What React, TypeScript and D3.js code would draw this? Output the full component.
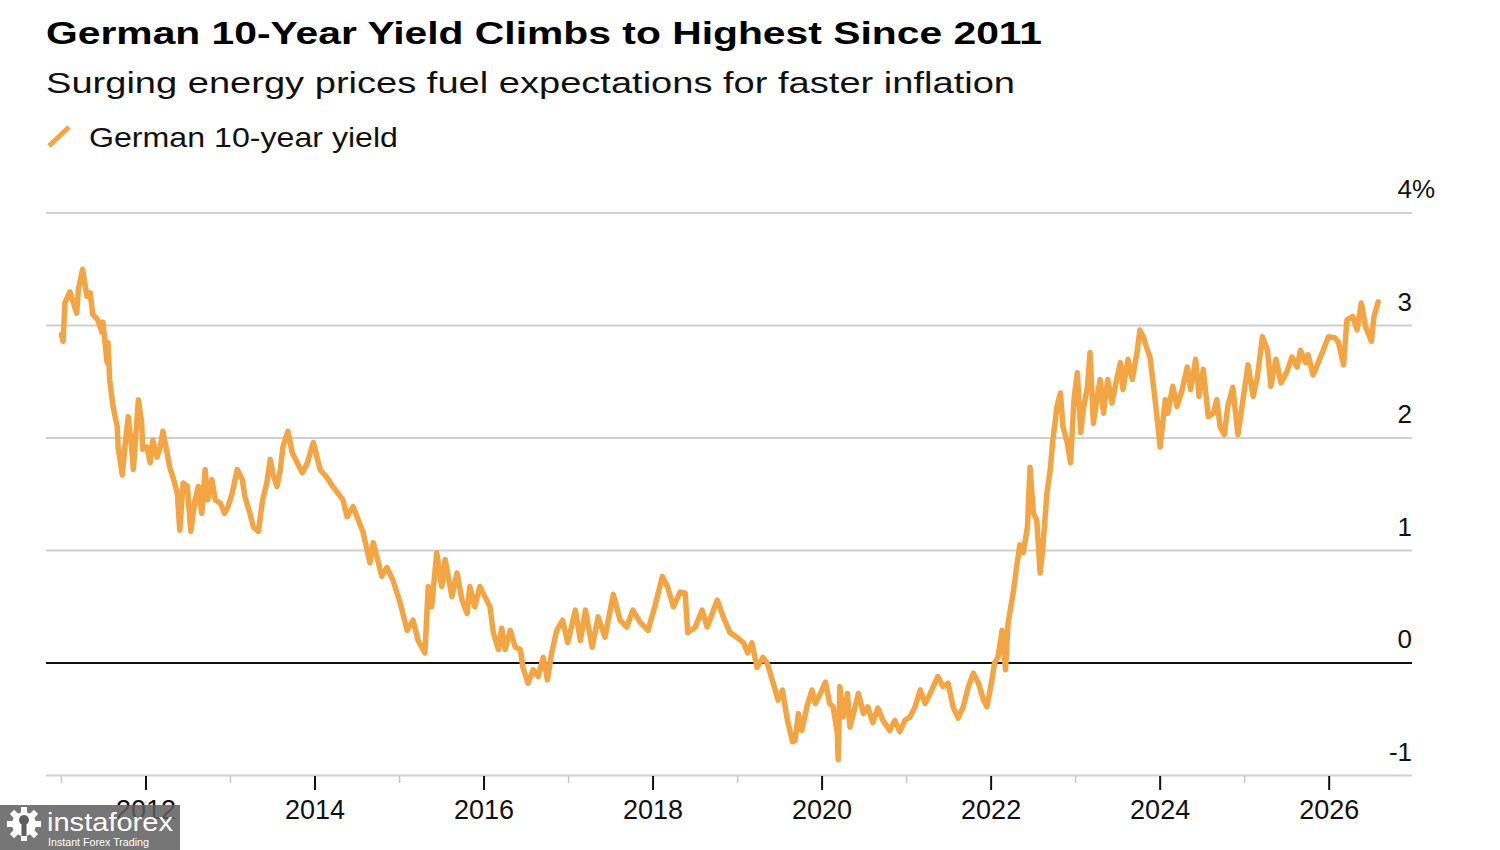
import React from "react";
import * as d3 from "d3";

const title = "German 10-Year Yield Climbs to Highest Since 2011";
const subtitle = "Surging energy prices fuel expectations for faster inflation";
const legendLabel = "German 10-year yield";

const yTicks = [-1, 0, 1, 2, 3, 4];
const majorYears = [2012, 2014, 2016, 2018, 2020, 2022, 2024, 2026];
const minorYears = [2011, 2013, 2015, 2017, 2019, 2021, 2023, 2025];

// [decimal year, yield %]
const yieldSeries: [number, number][] = [
  [2011.0, 2.92], [2011.02, 2.86], [2011.04, 3.2], [2011.1, 3.3], [2011.18, 3.11], [2011.2, 3.32],
  [2011.25, 3.5], [2011.3, 3.26], [2011.34, 3.29], [2011.37, 3.1], [2011.43, 3.05], [2011.48, 2.94],
  [2011.49, 3.03], [2011.54, 2.67], [2011.55, 2.85], [2011.57, 2.52], [2011.61, 2.28], [2011.66, 2.1],
  [2011.67, 1.92], [2011.72, 1.67], [2011.75, 1.92], [2011.79, 2.19], [2011.83, 1.92], [2011.85, 1.72],
  [2011.89, 2.13], [2011.91, 2.34], [2011.95, 2.13], [2011.96, 1.9], [2012.01, 1.92], [2012.05, 1.78],
  [2012.08, 1.98], [2012.13, 1.83], [2012.17, 1.92], [2012.2, 2.06], [2012.25, 1.87], [2012.28, 1.74],
  [2012.32, 1.65], [2012.37, 1.51], [2012.4, 1.18], [2012.44, 1.6], [2012.49, 1.57], [2012.53, 1.17],
  [2012.58, 1.45], [2012.62, 1.57], [2012.66, 1.33], [2012.7, 1.72], [2012.73, 1.45], [2012.78, 1.63],
  [2012.82, 1.45], [2012.88, 1.42], [2012.93, 1.33], [2012.97, 1.39], [2013.02, 1.51], [2013.08, 1.72],
  [2013.14, 1.63], [2013.17, 1.48], [2013.23, 1.33], [2013.27, 1.21], [2013.33, 1.17], [2013.38, 1.45],
  [2013.43, 1.6], [2013.47, 1.81], [2013.5, 1.69], [2013.55, 1.57], [2013.59, 1.72], [2013.62, 1.92],
  [2013.68, 2.06], [2013.73, 1.87], [2013.79, 1.78], [2013.85, 1.69], [2013.91, 1.78],
  [2013.98, 1.96], [2014.06, 1.72], [2014.14, 1.65], [2014.21, 1.57], [2014.33, 1.45], [2014.38, 1.3],
  [2014.45, 1.39], [2014.57, 1.16], [2014.65, 0.89], [2014.69, 1.07], [2014.79, 0.77], [2014.85, 0.85],
  [2014.92, 0.74], [2015.01, 0.53], [2015.09, 0.29], [2015.16, 0.38], [2015.22, 0.2], [2015.3, 0.09],
  [2015.34, 0.68], [2015.38, 0.5], [2015.44, 0.98], [2015.5, 0.68], [2015.54, 0.92], [2015.62, 0.59],
  [2015.68, 0.8], [2015.74, 0.56], [2015.8, 0.44], [2015.83, 0.68], [2015.89, 0.5], [2015.95, 0.68],
  [2016.01, 0.59], [2016.07, 0.5], [2016.11, 0.27], [2016.17, 0.12], [2016.21, 0.31], [2016.25, 0.12],
  [2016.31, 0.29], [2016.37, 0.14], [2016.43, 0.12], [2016.46, -0.04], [2016.52, -0.18], [2016.58, -0.06],
  [2016.64, -0.12], [2016.7, 0.05], [2016.75, -0.15], [2016.8, 0.09], [2016.86, 0.29], [2016.93, 0.38],
  [2016.99, 0.18], [2017.08, 0.47], [2017.14, 0.2], [2017.2, 0.47], [2017.28, 0.14], [2017.35, 0.41],
  [2017.43, 0.23], [2017.53, 0.61], [2017.61, 0.38], [2017.69, 0.32], [2017.76, 0.47], [2017.85, 0.36],
  [2017.94, 0.29], [2018.02, 0.5], [2018.11, 0.77], [2018.17, 0.68], [2018.24, 0.5], [2018.32, 0.63],
  [2018.38, 0.62], [2018.41, 0.27], [2018.5, 0.32], [2018.58, 0.47], [2018.64, 0.32], [2018.76, 0.56],
  [2018.83, 0.41], [2018.91, 0.27], [2018.99, 0.23], [2019.07, 0.18], [2019.12, 0.09], [2019.17, 0.18],
  [2019.23, -0.04], [2019.3, 0.05], [2019.35, 0.0], [2019.41, -0.15], [2019.48, -0.33], [2019.53, -0.24],
  [2019.59, -0.51], [2019.65, -0.7], [2019.68, -0.69], [2019.72, -0.45], [2019.76, -0.6], [2019.82, -0.39],
  [2019.88, -0.24], [2019.92, -0.36], [2019.98, -0.27], [2020.04, -0.17], [2020.09, -0.36], [2020.13, -0.39],
  [2020.18, -0.62], [2020.19, -0.86], [2020.21, -0.21], [2020.25, -0.48], [2020.3, -0.27], [2020.33, -0.57],
  [2020.37, -0.45], [2020.43, -0.27], [2020.49, -0.45], [2020.54, -0.39], [2020.6, -0.53], [2020.66, -0.4],
  [2020.72, -0.51], [2020.8, -0.6], [2020.86, -0.51], [2020.92, -0.61], [2020.98, -0.51], [2021.04, -0.48],
  [2021.1, -0.39], [2021.16, -0.24], [2021.22, -0.36], [2021.28, -0.27], [2021.37, -0.12], [2021.43, -0.21],
  [2021.49, -0.18], [2021.55, -0.39], [2021.61, -0.49], [2021.67, -0.39], [2021.73, -0.21], [2021.79, -0.09],
  [2021.85, -0.18], [2021.91, -0.33], [2021.95, -0.39], [2022.01, -0.15], [2022.04, 0.0], [2022.08, 0.05],
  [2022.13, 0.29], [2022.17, -0.06], [2022.2, 0.35], [2022.26, 0.62], [2022.31, 0.9], [2022.34, 1.05],
  [2022.38, 0.98], [2022.43, 1.21], [2022.46, 1.74], [2022.5, 1.33], [2022.54, 1.27], [2022.58, 0.8],
  [2022.61, 1.01], [2022.66, 1.51], [2022.7, 1.72], [2022.73, 1.98], [2022.78, 2.28], [2022.82, 2.4],
  [2022.85, 2.1], [2022.9, 1.96], [2022.94, 1.78], [2022.98, 2.34], [2023.02, 2.58], [2023.06, 2.05],
  [2023.09, 2.25], [2023.14, 2.46], [2023.17, 2.76], [2023.21, 2.13], [2023.25, 2.34], [2023.29, 2.52],
  [2023.33, 2.22], [2023.38, 2.52], [2023.43, 2.31], [2023.49, 2.54], [2023.53, 2.67], [2023.56, 2.43],
  [2023.62, 2.7], [2023.67, 2.52], [2023.73, 2.78], [2023.76, 2.96], [2023.8, 2.9], [2023.85, 2.78],
  [2023.88, 2.72], [2023.94, 2.34], [2024.0, 1.92], [2024.06, 2.34], [2024.09, 2.22], [2024.15, 2.46],
  [2024.2, 2.28], [2024.26, 2.43], [2024.32, 2.63], [2024.36, 2.43], [2024.42, 2.7], [2024.46, 2.37],
  [2024.51, 2.61], [2024.57, 2.19], [2024.63, 2.22], [2024.67, 2.34], [2024.71, 2.1], [2024.76, 2.03],
  [2024.8, 2.28], [2024.86, 2.45], [2024.92, 2.03], [2024.98, 2.34], [2025.04, 2.65], [2025.1, 2.37],
  [2025.15, 2.54], [2025.21, 2.9], [2025.27, 2.78], [2025.31, 2.46], [2025.37, 2.7], [2025.43, 2.49],
  [2025.5, 2.59], [2025.56, 2.72], [2025.62, 2.63], [2025.66, 2.78], [2025.72, 2.67], [2025.75, 2.74],
  [2025.81, 2.56], [2025.87, 2.67], [2025.93, 2.78], [2025.99, 2.9], [2026.07, 2.89], [2026.11, 2.85],
  [2026.17, 2.65], [2026.21, 3.05], [2026.28, 3.08], [2026.33, 2.96], [2026.38, 3.2], [2026.43, 2.99],
  [2026.5, 2.86], [2026.53, 3.08], [2026.58, 3.21],
];

const W = 1500;
const H = 850;
const LINE_COLOR = "#f3a443";
const FONT = "'Liberation Sans', Arial, Helvetica, sans-serif";

export default function App() {
  const plotLeft = 46;
  const plotRight = 1412;
  const x = d3.scaleLinear().domain([2010.817, 2026.98]).range([plotLeft, plotRight]);
  const y = d3.scaleLinear().domain([-1, 4]).range([775.5, 213]);
  const line = d3
    .line<[number, number]>()
    .x((d) => x(d[0]))
    .y((d) => y(d[1]))
    .curve(d3.curveLinear);

  const gearTeeth = d3.range(8).map((i) => (i * 360) / 8);

  return (
    <svg
      width={W}
      height={H}
      viewBox={`0 0 ${W} ${H}`}
      style={{ position: "absolute", left: 0, top: 0, background: "#fff" }}
      fontFamily={FONT}
    >
      <rect width={W} height={H} fill="#fff" />
      <text x={46} y={43.5} fontSize={32} fontWeight={700} fill="#000" textLength={996} lengthAdjust="spacingAndGlyphs">
        {title}
      </text>
      <text x={46} y={93} fontSize={29} fill="#111" textLength={969} lengthAdjust="spacingAndGlyphs">
        {subtitle}
      </text>
      <line x1={49} y1={146} x2={69} y2={127} stroke={LINE_COLOR} strokeWidth={5} />
      <text x={89} y={147} fontSize={28} fill="#111" textLength={309} lengthAdjust="spacingAndGlyphs">
        {legendLabel}
      </text>

      {/* gridlines */}
      {yTicks.map((t) => (
        <line
          key={t}
          x1={plotLeft}
          x2={plotRight}
          y1={y(t)}
          y2={y(t)}
          stroke={t === 0 ? "#111" : "#d0d0d0"}
          strokeWidth={2}
        />
      ))}
      {/* y labels */}
      {yTicks.map((t) => (
        <g key={"yl" + t}>
          <text x={1412} y={y(t) - 15} fontSize={26} fill="#111" textAnchor="end">
            {t}
          </text>
          {t === 4 && (
            <text x={1412} y={y(t) - 15} fontSize={26} fill="#111" textAnchor="start">
              %
            </text>
          )}
        </g>
      ))}

      {/* x ticks */}
      {minorYears.map((yr) => (
        <line key={"mn" + yr} x1={x(yr)} x2={x(yr)} y1={776} y2={783} stroke="#c8c8c8" strokeWidth={1.5} />
      ))}
      {majorYears.map((yr) => (
        <g key={"mj" + yr}>
          <line x1={x(yr)} x2={x(yr)} y1={776} y2={790} stroke="#111" strokeWidth={2} />
          <text x={x(yr)} y={819} fontSize={27} fill="#111" textAnchor="middle">
            {yr}
          </text>
        </g>
      ))}

      <path
        d={line(yieldSeries) ?? ""}
        fill="none"
        stroke={LINE_COLOR}
        strokeWidth={5.5}
        strokeLinejoin="round"
        strokeLinecap="round"
      />

      {/* watermark */}
      <g>
        <rect x={0} y={805} width={180} height={45} fill="#5e5e5e" opacity={0.85} />
        <g transform="translate(24,824)" fill="#fff">
          {gearTeeth.map((a) => (
            <rect key={a} x={-3} y={-17} width={6} height={7} transform={`rotate(${a})`} />
          ))}
          <circle r={12} />
          <circle r={5} cy={-4} fill="#5e5e5e" />
          <rect x={-2.5} y={0} width={5} height={12} fill="#5e5e5e" />
        </g>
        <text x={47} y={831} fontSize={26} fill="#fff" textLength={126} lengthAdjust="spacingAndGlyphs">
          instaforex
        </text>
        <text x={48} y={846} fontSize={11} fill="#fff" textLength={101} lengthAdjust="spacingAndGlyphs">
          Instant Forex Trading
        </text>
      </g>
    </svg>
  );
}
